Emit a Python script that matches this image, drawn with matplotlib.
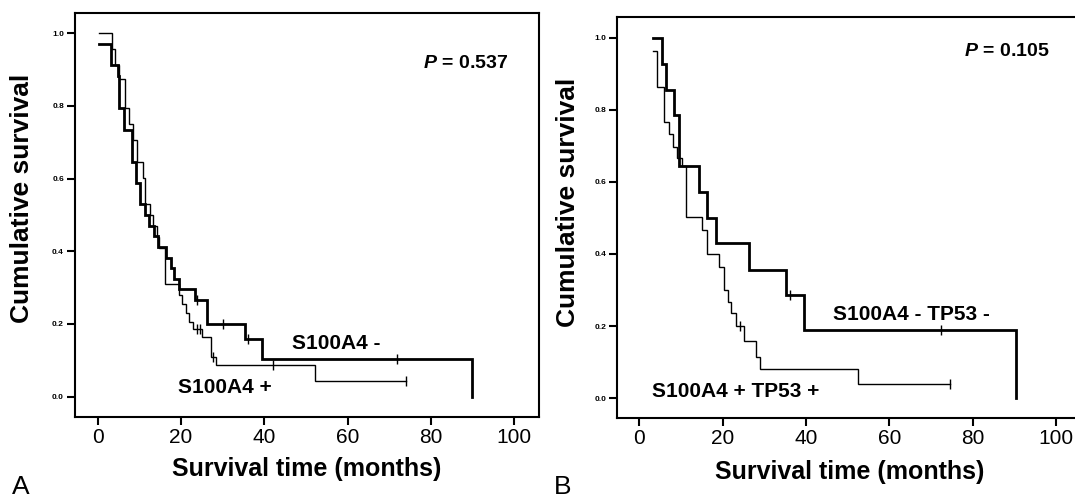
import numpy as np
import matplotlib
matplotlib.use("Agg")
import matplotlib.pyplot as plt

plt.rcParams['font.family'] = ['Liberation Sans', 'DejaVu Sans']
plt.rcParams['mathtext.fontset'] = 'custom'
plt.rcParams['mathtext.it'] = 'Liberation Sans:italic:bold'
plt.rcParams['mathtext.rm'] = 'Liberation Sans:bold'

# Panel A: S100A4 - (thick) / S100A4 + (thin)
a_neg_time = [0.3, 3.3, 4.8, 5.2, 6.2, 8.2, 9.2, 10.2, 11.4, 12.4, 13.4, 14.5, 16.3, 17.5, 18.3, 19.5, 23.4, 26.2, 35.4, 39.4, 90.0]
a_neg_surv = [0.971, 0.912, 0.882, 0.794, 0.735, 0.647, 0.588, 0.529, 0.500, 0.471, 0.441, 0.412, 0.382, 0.353, 0.324, 0.295, 0.265, 0.200, 0.160, 0.105, 0.0]
a_neg_cens_t = [23.9, 30.1, 36.2, 72.0]
a_neg_cens_s = [0.265, 0.200, 0.160, 0.105]

a_pos_time = [0.3, 3.4, 4.2, 5.0, 6.6, 7.6, 8.4, 9.4, 10.8, 11.4, 12.5, 13.2, 14.2, 14.8, 16.2, 19.5, 20.3, 21.2, 22.0, 22.8, 25.0, 27.3, 28.5, 52.2, 74.0]
a_pos_surv = [1.0, 0.956, 0.912, 0.875, 0.794, 0.750, 0.706, 0.647, 0.603, 0.530, 0.500, 0.470, 0.440, 0.410, 0.310, 0.280, 0.255, 0.230, 0.205, 0.185, 0.165, 0.110, 0.088, 0.044, 0.044]
a_pos_cens_t = [23.8, 24.6, 27.8, 42.2, 74.0]
a_pos_cens_s = [0.185, 0.185, 0.110, 0.088, 0.044]

# Panel B: S100A4 - TP53 - (thick) / S100A4 + TP53 + (thin)
b_neg_time = [3.3, 5.4, 6.4, 8.4, 9.4, 14.3, 16.3, 18.3, 26.3, 35.2, 39.4, 90.4]
b_neg_surv = [1.0, 0.928, 0.855, 0.785, 0.643, 0.571, 0.500, 0.430, 0.357, 0.286, 0.190, 0.0]
b_neg_cens_t = [36.2, 72.4]
b_neg_cens_s = [0.286, 0.190]

b_pos_time = [3.3, 4.2, 6.0, 7.2, 8.0, 9.0, 10.2, 11.3, 15.1, 16.3, 19.1, 20.2, 21.3, 22.0, 23.2, 25.1, 28.0, 29.0, 52.5, 74.4]
b_pos_surv = [0.963, 0.864, 0.766, 0.733, 0.696, 0.665, 0.643, 0.502, 0.466, 0.400, 0.365, 0.300, 0.267, 0.235, 0.200, 0.160, 0.114, 0.080, 0.039, 0.039]
b_pos_cens_t = [24.1, 74.4]
b_pos_cens_s = [0.200, 0.039]

x_ticks = [0, 20, 40, 60, 80, 100]
y_ticks = [0.0, 0.2, 0.4, 0.6, 0.8, 1.0]

fig = plt.figure(figsize=(10.75, 4.99), dpi=100)
axA = fig.add_axes([0.0698, 0.1643, 0.4316, 0.8097])
axB = fig.add_axes([0.5742, 0.1629, 0.4316, 0.8036])


def draw_km(ax, t, s, ct, cs, lw):
    ax.step(t, s, where='post', color='black', lw=lw, solid_joinstyle='miter')
    ax.plot(ct, cs, ls='none', marker='|', ms=7, mew=1.0, color='black')


def style(ax, xlim, ylim, label_x, label_y, xl_y):
    ax.set_xlim(*xlim)
    ax.set_ylim(*ylim)
    ax.set_xticks(x_ticks)
    ax.set_yticks(y_ticks)
    ax.set_yticklabels(['%.1f' % v for v in y_ticks], fontsize=6, fontweight='bold')
    ax.tick_params(axis='x', direction='out', length=6, width=1.5, labelsize=15, pad=2)
    ax.tick_params(axis='y', direction='out', length=6, width=1.5, pad=2)
    for sp in ax.spines.values():
        sp.set_linewidth(1.5)
    ax.set_ylabel('Cumulative survival', fontsize=19, fontweight='bold')
    ax.yaxis.set_label_coords(label_x, label_y)
    ax.set_xlabel('Survival time (months)', fontsize=18, fontweight='bold')
    ax.xaxis.set_label_coords(0.5, xl_y)


draw_km(axA, a_neg_time, a_neg_surv, a_neg_cens_t, a_neg_cens_s, 2.0)
draw_km(axA, a_pos_time, a_pos_surv, a_pos_cens_t, a_pos_cens_s, 1.0)
style(axA, (-5.45, 106.0), (-0.056, 1.056), -0.088, 0.54, -0.10)
axA.text(0.933, 0.874, r'$P$ = 0.537', transform=axA.transAxes, ha='right', va='center',
         fontsize=14, fontweight='bold')
axA.text(46.7, 0.147, 'S100A4 -', fontsize=15, fontweight='bold', va='center')
axA.text(19.3, 0.026, 'S100A4 +', fontsize=15, fontweight='bold', va='center')

draw_km(axB, b_neg_time, b_neg_surv, b_neg_cens_t, b_neg_cens_s, 2.0)
draw_km(axB, b_pos_time, b_pos_surv, b_pos_cens_t, b_pos_cens_s, 1.0)
style(axB, (-5.3, 106.0), (-0.054, 1.058), -0.080, 0.538, -0.106)
axB.text(0.9325, 0.913, r'$P$ = 0.105', transform=axB.transAxes, ha='right', va='center',
         fontsize=14, fontweight='bold')
axB.text(46.5, 0.231, 'S100A4 - TP53 -', fontsize=15, fontweight='bold', va='center')
axB.text(3.1, 0.0175, 'S100A4 + TP53 +', fontsize=15, fontweight='bold', va='center')

fig.text(0.011, 0.0, 'A', fontsize=19, va='bottom')
fig.text(0.515, 0.0, 'B', fontsize=19, va='bottom')

fig.savefig('out.png', dpi=100)
